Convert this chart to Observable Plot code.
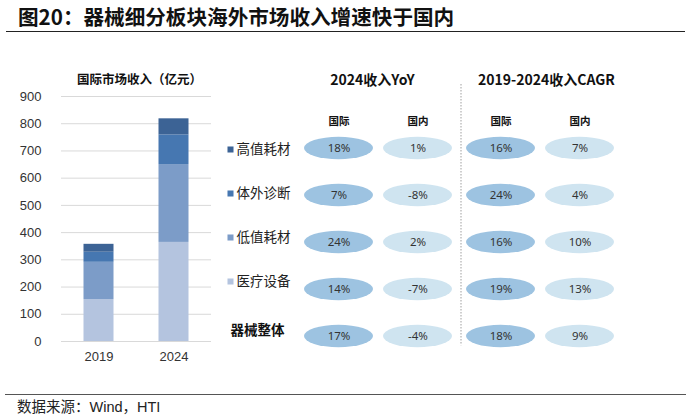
<!DOCTYPE html>
<html>
<head>
<meta charset="utf-8">
<script src="https://cdn.jsdelivr.net/npm/d3@7"></script>
<script src="https://cdn.jsdelivr.net/npm/@observablehq/plot@0.6"></script>
<style>
  body { margin: 0; background: #fff; }
  #root { position: relative; width: 691px; height: 420px; overflow: hidden; font-family: "Noto Sans CJK SC", sans-serif; }
  .abs { position: absolute; }
  #title { left: 18px; top: 5px; font-size: 20.6px; font-weight: bold; line-height: 22px; color: #111; white-space: nowrap; }
  #rule1 { left: 6px; top: 31px; width: 679px; height: 0; border-top: 1.5px solid #222; }
  #rule2 { left: 5px; top: 394px; width: 681px; height: 0; border-top: 1px solid #555; }
  #source { left: 17px; top: 399px; font-size: 14.5px; line-height: 17px; color: #222; white-space: nowrap;
            font-family: "Liberation Sans", Arial, "Noto Sans CJK SC", sans-serif; }
  #bars, #legend, #table { left: 0; top: 0; }
  #bars svg, #legend svg, #table svg { display: block; overflow: visible; }
</style>
</head>
<body>
<div id="root">
  <div id="title" class="abs">图20：器械细分板块海外市场收入增速快于国内</div>
  <div id="rule1" class="abs"></div>
  <div id="bars" class="abs"></div>
  <div id="legend" class="abs"></div>
  <div id="table" class="abs"></div>
  <div id="rule2" class="abs"></div>
  <div id="source" class="abs">数据来源：Wind，HTI</div>
</div>
<script>
// ---- data ----
const years = [2019, 2024];
const categories = ["高值耗材", "体外诊断", "低值耗材", "医疗设备"];
const catColors = ["#3c6395", "#4677b1", "#7c9cc8", "#b4c4df"];
const highValue = [29, 59];     // 高值耗材 (亿元)
const ivd = [37, 109];          // 体外诊断
const lowValue = [137, 286];    // 低值耗材
const medEquip = [154, 364];    // 医疗设备
const yTicks = [0, 100, 200, 300, 400, 500, 600, 700, 800, 900];
const chartTitle = "国际市场收入（亿元）";

const rows = ["高值耗材", "体外诊断", "低值耗材", "医疗设备", "器械整体"];
const sections = ["2024收入YoY", "2019-2024收入CAGR"];
const markets = ["国际", "国内"];
const marketColors = ["#9dc3e1", "#cfe4f0"];
const yoyIntl = [18, 7, 24, 14, 17];
const yoyDom = [1, -8, 2, -7, -4];
const cagrIntl = [16, 24, 16, 19, 18];
const cagrDom = [7, 4, 10, 13, 9];

// ---- derived tables ----
const seriesByCat = {"高值耗材": highValue, "体外诊断": ivd, "低值耗材": lowValue, "医疗设备": medEquip};
const barData = [];
for (const cat of [...categories].reverse()) {
  years.forEach((yr, i) => barData.push({year: yr, cat, value: seriesByCat[cat][i]}));
}
const seriesTable = {
  [sections[0]]: {"国际": yoyIntl, "国内": yoyDom},
  [sections[1]]: {"国际": cagrIntl, "国内": cagrDom}
};
const tableData = [];
for (const s of sections) for (const m of markets) rows.forEach((r, i) =>
  tableData.push({section: s, market: m, row: r, value: seriesTable[s][m][i]}));

const rowScale = {domain: rows, paddingInner: 0.5, paddingOuter: 0.109, axis: null};

// ---- stacked bars ----
const bars = Plot.plot({
  width: 230, height: 420,
  marginTop: 96, marginBottom: 79, marginLeft: 61, marginRight: 19,
  style: {fontFamily: "'Liberation Sans', Arial, sans-serif", fontSize: "13px", color: "#333", background: "transparent"},
  x: {domain: years, padding: 0, label: null, tickSize: 0, tickPadding: 10, tickFormat: d => `${d}`},
  y: {domain: [0, 900], ticks: yTicks, label: null, tickSize: 0, tickPadding: 20},
  color: {domain: categories, range: catColors},
  marks: [
    Plot.ruleY(yTicks, {stroke: "#d9d9d9", strokeWidth: 1}),
    Plot.barY(barData, {x: "year", y: "value", fill: "cat", insetLeft: 22.5, insetRight: 22.5}),
    Plot.text([chartTitle], {text: d => d, frameAnchor: "top", dy: -21, dx: 3, fontWeight: "bold",
      fontSize: 12.5, fontFamily: "'Noto Sans CJK SC', sans-serif", fill: "#111"})
  ]
});
document.getElementById("bars").appendChild(bars);

// ---- legend / row labels ----
const legend = Plot.plot({
  width: 330, height: 420,
  marginTop: 130, marginBottom: 66.8, marginLeft: 236, marginRight: 10,
  style: {fontFamily: "'Noto Sans CJK SC', sans-serif", fontSize: "13.5px", color: "#222", background: "transparent"},
  y: rowScale,
  color: {domain: categories, range: catColors},
  marks: [
    Plot.dot(categories, {y: d => d, fill: d => d, symbol: "square", r: 3.4, frameAnchor: "left", dx: -6, dy: -5}),
    Plot.text(categories, {y: d => d, text: d => d, frameAnchor: "left", textAnchor: "start", dy: -5, fontSize: 13.5, fill: "#222"}),
    Plot.text(rows.slice(4), {y: d => d, text: d => d, frameAnchor: "left", textAnchor: "start", dx: -6,
      fontSize: 13.5, fontWeight: "bold", fill: "#111"})
  ]
});
document.getElementById("legend").appendChild(legend);

// ---- ellipse table ----
const firstCell = (s) => d => d.section === s && d.market === markets[0] && d.row === rows[0];
const table = Plot.plot({
  width: 691, height: 420,
  marginTop: 130, marginBottom: 66.8, marginLeft: 296, marginRight: 70,
  style: {fontFamily: "'Noto Sans CJK SC', sans-serif", fontSize: "10.5px", fontWeight: "bold", color: "#111", background: "transparent"},
  facet: {data: tableData, x: "section"},
  fx: {domain: sections, padding: 0, axis: null},
  x: {domain: markets, padding: 0.03, axis: "top", tickSize: 0, tickPadding: 6, label: null},
  y: rowScale,
  color: {domain: markets, range: marketColors},
  marks: [
    Plot.cell(tableData, {x: "market", y: "row", fill: "market", insetLeft: 4, insetRight: 4,
      insetTop: 0.8, insetBottom: 0.8, rx: 40, ry: 12}),
    Plot.text(tableData, {x: "market", y: "row", text: d => `${d.value}%`, fontWeight: "normal",
      fontSize: 11.5, fontFamily: "'Noto Sans', sans-serif", fill: "#333"}),
    Plot.text(tableData, {filter: firstCell(sections[0]), text: "section", frameAnchor: "top", dy: -55, dx: -6, fontSize: 14, fill: "#111"}),
    Plot.text(tableData, {filter: firstCell(sections[1]), text: "section", frameAnchor: "top", dy: -55, dx: 6, fontSize: 14, fill: "#111"}),
    Plot.ruleX(tableData, {filter: firstCell(sections[1]), x: "market", dx: -40, insetTop: -46, insetBottom: 8,
      stroke: "#c0c0c0", strokeWidth: 1.5, strokeDasharray: "1.5,1.5"})
  ]
});
document.getElementById("table").appendChild(table);
</script>
</body>
</html>
